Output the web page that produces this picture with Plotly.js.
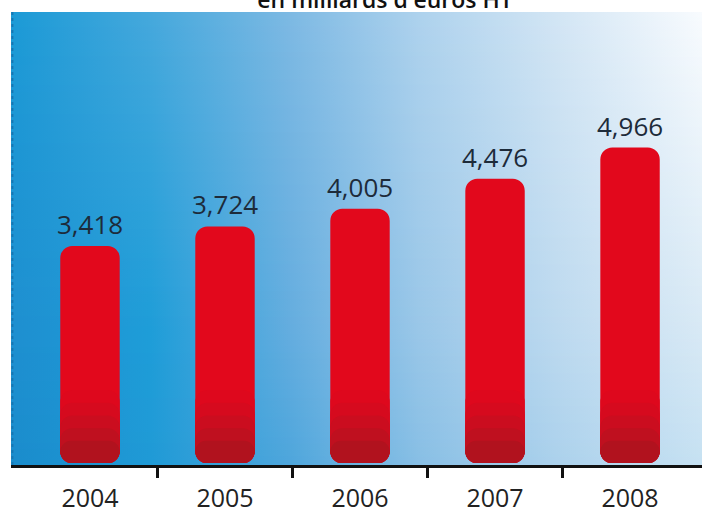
<!DOCTYPE html>
<html><head><meta charset="utf-8">
<script src="https://cdn.plot.ly/plotly-3.0.1.min.js"></script>
<style>html,body{margin:0;padding:0;background:#fff}#chart{width:702px;height:515px}</style>
</head><body><div id="chart"></div>
<script>
const years = [2004, 2005, 2006, 2007, 2008];
const values = [3.418, 3.724, 4.005, 4.476, 4.966];
const valueLabels = ['3,418', '3,724', '4,005', '4,476', '4,966'];
const chartTitle = "en milliards d'euros HT";

function hex2rgb(h) { return [1, 3, 5].map(i => parseInt(h.substr(i, 2), 16)); }
function lerpColor(a, b, t) {
  const A = hex2rgb(a), B = hex2rgb(b);
  return 'rgb(' + A.map((v, i) => Math.round(v + (B[i] - v) * t)).join(',') + ')';
}
function gradientURI() {
  const W = 691, H = 453;
  const c = document.createElement('canvas'); c.width = W; c.height = H;
  const g = c.getContext('2d');
  const stopPos = [0, 139 / W, 279 / W, 409 / W, 544 / W, 1];
  const rows = [
    [0, ['#1b9ad6', '#45a8dc', '#7db9e3', '#aed2ed', '#d2e5f4', '#f8fbfe']],
    [318, ['#1e8fd0', '#1e9dd8', '#64addf', '#9ac7e8', '#bcd9ef', '#d8e9f5']],
    [H, ['#1a8ccc', '#1f9ad6', '#4ea6dc', '#88bfe5', '#abd1ec', '#c6e1f2']]
  ];
  for (let y = 0; y < H; y++) {
    let r0 = rows[0], r1 = rows[1];
    if (y > rows[1][0]) { r0 = rows[1]; r1 = rows[2]; }
    const t = (y - r0[0]) / (r1[0] - r0[0]);
    const lg = g.createLinearGradient(0, 0, W, 0);
    stopPos.forEach((p, i) => lg.addColorStop(p, lerpColor(r0[1][i], r1[1][i], t)));
    g.fillStyle = lg; g.fillRect(0, y, W, 1);
  }
  return c.toDataURL();
}

// shading layers (height from the baseline, colour), drawn tallest first
const shadeLayers = [
  [1.15, '#de081d'],
  [0.95, '#d60a1e'],
  [0.75, '#cb0d1f'],
  [0.55, '#bf101f'],
  [0.35, '#b1121e']
];
const barW = 0.44;
const traces = [{type: 'bar', x: years, base: years.map(() => 0), y: values, width: barW,
  marker: {color: '#e2081c', cornerradius: 12, line: {width: 0}}, hoverinfo: 'skip'}];
shadeLayers.forEach(s => {
  traces.push({type: 'bar', x: years, base: years.map(() => 0), y: years.map(() => s[0]), width: barW,
    marker: {color: s[1], cornerradius: 12, line: {width: 0}}, hoverinfo: 'skip'});
});

const annotations = years.map((yr, i) => ({
  x: yr, y: values[i], text: valueLabels[i], showarrow: false, yanchor: 'bottom', yshift: 2,
  font: {family: 'Open Sans', size: 26, color: '#1d2b3a'}
}));

const layout = {
  width: 702, height: 515,
  margin: {l: 11, r: 0, t: 12, b: 50},
  paper_bgcolor: '#ffffff', plot_bgcolor: 'rgba(0,0,0,0)',
  barmode: 'overlay', showlegend: false,
  title: {text: chartTitle, x: 385 / 702, xanchor: 'center', y: 1, yref: 'container', yanchor: 'middle',
    font: {family: 'Open Sans', size: 23, color: '#111', weight: 600}},
  xaxis: {type: 'linear', range: [2003.415, 2008.533], tickvals: years, ticktext: years.map(String),
    ticks: '', showgrid: false, zeroline: false, showline: true, linecolor: '#111', linewidth: 3,
    ticklabelstandoff: 9, tickfont: {family: 'Open Sans', size: 25, color: '#222'},
    minor: {tickvals: years.slice(1).map(y => y - 0.5), ticks: 'outside', ticklen: 10, tickwidth: 3, tickcolor: '#111', showgrid: false},
    fixedrange: true},
  yaxis: {visible: false, range: [-0.03, 7.1], showgrid: false, zeroline: false, fixedrange: true},
  images: [{source: gradientURI(), xref: 'paper', yref: 'paper', x: 0, y: 1, sizex: 1, sizey: 1,
    sizing: 'stretch', xanchor: 'left', yanchor: 'top', layer: 'below'}],
  shapes: [{type: 'line', xref: 'paper', yref: 'paper', x0: 0.002, x1: 0.002, y0: 0, y1: 1,
    line: {color: '#1677b3', width: 2, dash: 'dot'}}],
  annotations: annotations
};
Plotly.newPlot('chart', traces, layout, {displayModeBar: false, staticPlot: true});
</script></body></html>
